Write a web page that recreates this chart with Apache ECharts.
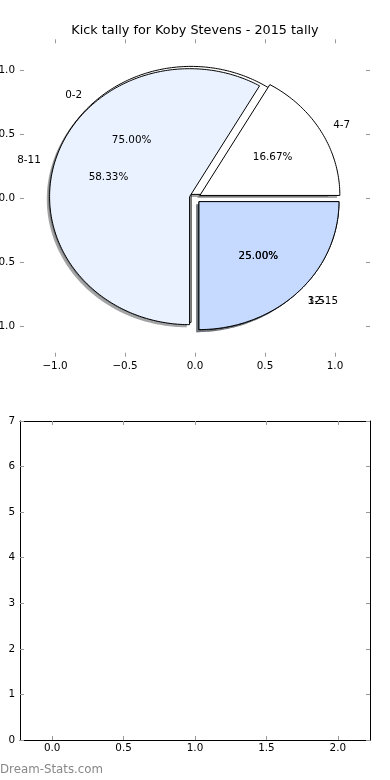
<!DOCTYPE html>
<html><head><meta charset="utf-8">
<script src="https://cdn.jsdelivr.net/npm/echarts@6/dist/echarts.min.js"></script>
<style>html,body{margin:0;padding:0;background:#fff}#c{width:390px;height:780px}</style>
</head><body><div id="c"></div>
<script>
// ---- data ----
const titleText = 'Kick tally for Koby Stevens - 2015 tally';
const lowerLabels = ['0-2', '3-5'];
const lowerValues = [9, 3];
const upperLabels = ['4-7', '8-11', '12-15'];
const upperValues = [2, 7, 3];
const sliceColors = ['#ffffff', '#ebf2ff', '#c6d9ff'];
const pieTicks = [-1, -0.5, 0, 0.5, 1];
const barCategories = [0, 1, 2];
const barValues = [0, 0, 0];
const barXTicks = [0, 0.5, 1, 1.5, 2];
const watermark = 'Dream-Stats.com';

const FONT = 'DejaVu Sans';
const EXPLODE = 0.04, LABEL_D = 1.1, PCT_D = 0.6, SH = -0.02;

function geom(values) {
  const total = values.reduce((a, b) => a + b, 0);
  let a = 0;
  return values.map((v, i) => {
    const a0 = a, a1 = a + 360 * v / total; a = a1;
    const am = (a0 + a1) / 2 * Math.PI / 180;
    return {a0, a1, am, cx: EXPLODE * Math.cos(am), cy: EXPLODE * Math.sin(am),
      pct: (100 * v / total).toFixed(2) + '%', color: sliceColors[i % sliceColors.length]};
  });
}
const pies = [
  {labels: lowerLabels, values: lowerValues, g: geom(lowerValues)},
  {labels: upperLabels, values: upperValues, g: geom(upperValues)}
];
const allSlices = [];
pies.forEach((p, pi) => p.values.forEach((v, si) => allSlices.push([pi, si])));

function wedgePts(api, s, ox, oy) {
  const pts = [api.coord([s.cx + ox, s.cy + oy])];
  const n = Math.max(2, Math.ceil(s.a1 - s.a0));
  for (let k = 0; k <= n; k++) {
    const t = (s.a0 + (s.a1 - s.a0) * k / n) * Math.PI / 180;
    pts.push(api.coord([s.cx + ox + Math.cos(t), s.cy + oy + Math.sin(t)]));
  }
  return pts;
}
function shadowColor(hex) {
  const r = parseInt(hex.slice(1, 3), 16), g = parseInt(hex.slice(3, 5), 16), b = parseInt(hex.slice(5, 7), 16);
  return 'rgba(' + Math.round(r * 0.3) + ',' + Math.round(g * 0.3) + ',' + Math.round(b * 0.3) + ',0.5)';
}
function fmt(v) { return (v < 0 ? '\u2212' : '') + Math.abs(v).toFixed(1); }

const tickStyle = {color: '#999', width: 1};
const lblStyle = {fontFamily: FONT, fontSize: 10.4, color: '#000'};

function pieX(pos, showLabel) {
  return {gridIndex: 0, type: 'value', position: pos, min: -1.25, max: 1.25,
    axisLine: {show: false, onZero: false},
    axisTick: {show: true, inside: true, length: 4, lineStyle: tickStyle, customValues: pieTicks},
    axisLabel: {show: showLabel, customValues: pieTicks, formatter: fmt, margin: 5, ...lblStyle},
    splitLine: {show: false}};
}
function pieY(pos, showLabel) {
  return {gridIndex: 0, type: 'value', position: pos, min: -1.24, max: 1.24,
    axisLine: {show: false, onZero: false},
    axisTick: {show: true, inside: true, length: 4, lineStyle: tickStyle, customValues: pieTicks},
    axisLabel: {show: showLabel, customValues: pieTicks, formatter: fmt, margin: 5, ...lblStyle},
    splitLine: {show: false}};
}
function barX(pos, showLabel) {
  return {gridIndex: 1, type: 'value', position: pos, min: -0.225, max: 2.225,
    axisLine: {show: true, onZero: false, lineStyle: {color: '#000', width: 1}},
    axisTick: {show: true, inside: true, length: 4, lineStyle: tickStyle, customValues: barXTicks},
    axisLabel: {show: showLabel, customValues: barXTicks, formatter: fmt, margin: 3, ...lblStyle},
    splitLine: {show: false}};
}
function barY(pos, showLabel) {
  return {gridIndex: 1, type: 'value', position: pos, min: 0, max: 7, interval: 1,
    axisLine: {show: true, onZero: false, lineStyle: {color: '#000', width: 1}},
    axisTick: {show: true, inside: true, length: 4, lineStyle: tickStyle},
    axisLabel: {show: showLabel, margin: 5, ...lblStyle},
    splitLine: {show: false}};
}

function wedgeSeries(pi) {
  return {type: 'custom', xAxisIndex: 0, yAxisIndex: 0, silent: true, clip: false,
    data: pies[pi].values.map((v, i) => [i, v]),
    renderItem: (params, api) => {
      const s = pies[pi].g[params.dataIndex];
      return {type: 'polygon', shape: {points: wedgePts(api, s, 0, 0)},
        style: {fill: s.color, stroke: '#000', lineWidth: 1, lineJoin: 'miter'}};
    }};
}

const chart = echarts.init(document.getElementById('c'), null, {renderer: 'canvas'});
chart.setOption({
  animation: false,
  backgroundColor: '#fff',
  title: {text: titleText, left: 'center', top: 24, padding: 0,
    textStyle: {fontFamily: FONT, fontSize: 12.8, fontWeight: 'normal', color: '#000'}},
  grid: [
    {left: 20, width: 350, top: 39.3, height: 317.4, containLabel: false, outerBoundsMode: 'none'},
    {left: 20, width: 350, top: 421, height: 319, containLabel: false, outerBoundsMode: 'none'}
  ],
  xAxis: [pieX('bottom', true), pieX('top', false), barX('bottom', true), barX('top', false)],
  yAxis: [pieY('left', true), pieY('right', false), barY('left', true), barY('right', false)],
  graphic: [{type: 'text', left: 0, top: 764,
    style: {text: watermark, fill: '#888', font: '11.8px "DejaVu Sans"'}}],
  series: [
    {type: 'custom', xAxisIndex: 0, yAxisIndex: 0, silent: true, clip: false,
      data: allSlices,
      renderItem: (params, api) => {
        const [pi, si] = allSlices[params.dataIndex];
        const s = pies[pi].g[si];
        return {type: 'polygon', shape: {points: wedgePts(api, s, SH, SH)},
          style: {fill: shadowColor(s.color), stroke: null}};
      }},
    wedgeSeries(0),
    wedgeSeries(1),
    {type: 'custom', xAxisIndex: 0, yAxisIndex: 0, silent: true, clip: false,
      data: allSlices,
      renderItem: (params, api) => {
        const [pi, si] = allSlices[params.dataIndex];
        const s = pies[pi].g[si];
        const lx = s.cx + LABEL_D * Math.cos(s.am), ly = s.cy + LABEL_D * Math.sin(s.am);
        const px = s.cx + PCT_D * Math.cos(s.am), py = s.cy + PCT_D * Math.sin(s.am);
        const L = api.coord([lx, ly]), P = api.coord([px, py]);
        const font = '10.4px "DejaVu Sans"';
        return {type: 'group', children: [
          {type: 'text', style: {x: L[0], y: L[1], text: pies[pi].labels[si], fill: '#000', font,
            align: lx > 0 ? 'left' : 'right', verticalAlign: 'middle'}},
          {type: 'text', style: {x: P[0], y: P[1], text: s.pct, fill: '#000', font,
            align: 'center', verticalAlign: 'middle'}}
        ]};
      }},
    {type: 'bar', xAxisIndex: 2, yAxisIndex: 2, silent: true, barWidth: 100,
      itemStyle: {color: '#c6d9ff'},
      data: barCategories.map((c, i) => [c, barValues[i]])}
  ]
});
</script></body></html>
